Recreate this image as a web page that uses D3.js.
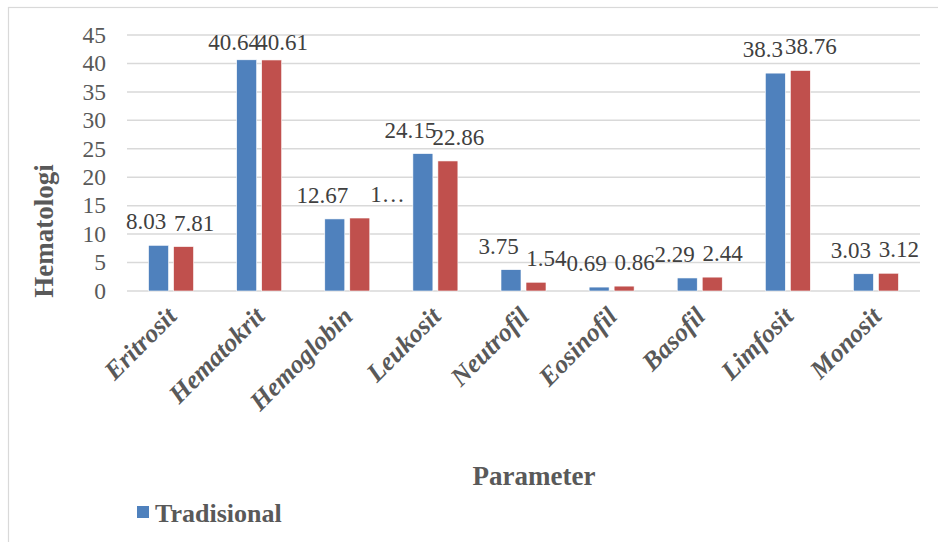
<!DOCTYPE html>
<html>
<head>
<meta charset="utf-8">
<script src="https://cdn.jsdelivr.net/npm/d3@7"></script>
<style>
  body { margin: 0; background: #fff; }
  svg text { font-family: "Liberation Serif", "Times New Roman", serif; }
</style>
</head>
<body>
<div id="chart"></div>
<script>
var categories = ["Eritrosit", "Hematokrit", "Hemoglobin", "Leukosit", "Neutrofil", "Eosinofil", "Basofil", "Limfosit", "Monosit"];
var tradisional = [8.03, 40.64, 12.67, 24.15, 3.75, 0.69, 2.29, 38.3, 3.03];
var series2 = [7.81, 40.61, 12.83, 22.86, 1.54, 0.86, 2.44, 38.76, 3.12];
var yTicks = [0, 5, 10, 15, 20, 25, 30, 35, 40, 45];
var legendName = "Tradisional";
// the label of the second hemoglobin bar is cut off in the original
var truncatedB = [2];

var width = 938, height = 542;
var plotLeft = 127, plotRight = 920, plotTop = 35, plotBottom = 291;

var svg = d3.select("#chart").append("svg")
    .attr("width", width)
    .attr("height", height);

// chart border
svg.append("rect")
    .attr("x", 8.5).attr("y", 7.5)
    .attr("width", 960).attr("height", 600)
    .attr("fill", "none")
    .attr("stroke", "#D9D9D9")
    .attr("stroke-width", 1.2);

var x0 = d3.scaleBand()
    .domain(categories)
    .range([plotLeft, plotRight]);

var x1 = d3.scaleBand()
    .domain(["a", "b"])
    .range([0, x0.bandwidth()])
    .paddingInner(0.2)
    .paddingOuter(0.862);

var y = d3.scaleLinear()
    .domain([0, 45])
    .range([plotBottom, plotTop]);

// gridlines
svg.append("g")
    .selectAll("line")
    .data(yTicks)
    .enter()
    .append("line")
    .attr("x1", plotLeft).attr("x2", plotRight)
    .attr("y1", d => y(d)).attr("y2", d => y(d))
    .attr("stroke", "#D9D9D9")
    .attr("stroke-width", 1.5);

// y tick labels
svg.append("g")
    .selectAll("text")
    .data(yTicks)
    .enter()
    .append("text")
    .attr("x", 106)
    .attr("y", d => y(d))
    .attr("dy", "0.33em")
    .attr("text-anchor", "end")
    .attr("fill", "#595959")
    .style("font-size", "23.5px")
    .text(d => d);

var rows = categories.map((c, i) => ({ cat: c, i: i, a: tradisional[i], b: series2[i] }));

var groups = svg.append("g")
    .selectAll("g")
    .data(rows)
    .enter()
    .append("g")
    .attr("transform", d => "translate(" + x0(d.cat) + ",0)");

groups.append("rect")
    .attr("x", x1("a"))
    .attr("y", d => y(d.a))
    .attr("width", x1.bandwidth())
    .attr("height", d => y(0) - y(d.a))
    .attr("fill", "#4F81BD")
    .attr("stroke", "#ffffff")
    .attr("stroke-width", 0.6);

groups.append("rect")
    .attr("x", x1("b"))
    .attr("y", d => y(d.b))
    .attr("width", x1.bandwidth())
    .attr("height", d => y(0) - y(d.b))
    .attr("fill", "#C0504D")
    .attr("stroke", "#ffffff")
    .attr("stroke-width", 0.6);

// value labels
var mid = x0.bandwidth() / 2;
groups.append("text")
    .attr("x", mid - 25)
    .attr("y", d => Math.max(y(d.a) - 16, 50))
    .attr("text-anchor", "middle")
    .attr("fill", "#404040")
    .style("font-size", "23px")
    .text(d => d.a);

groups.append("text")
    .attr("x", mid + 23)
    .attr("y", d => Math.max(y(d.b) - 16, 50))
    .attr("text-anchor", d => truncatedB.includes(d.i) ? "start" : "middle")
    .attr("fill", "#404040")
    .style("font-size", "23px")
    .text(d => truncatedB.includes(d.i) ? String(d.b).charAt(0) + "\u2026" : d.b);

// category labels
svg.append("g")
    .selectAll("text")
    .data(categories)
    .enter()
    .append("text")
    .attr("transform", d => "translate(" + (x0(d) + mid + 7) + ",318) rotate(-45)")
    .attr("text-anchor", "end")
    .attr("fill", "#595959")
    .style("font-size", "26px")
    .style("font-weight", "bold")
    .style("font-style", "italic")
    .text(d => d);

// axis titles
svg.append("text")
    .attr("transform", "translate(53,231) rotate(-90)")
    .attr("text-anchor", "middle")
    .attr("fill", "#595959")
    .style("font-size", "27px")
    .style("font-weight", "bold")
    .text("Hematologi");

svg.append("text")
    .attr("x", 534)
    .attr("y", 485)
    .attr("text-anchor", "middle")
    .attr("fill", "#595959")
    .style("font-size", "27px")
    .style("font-weight", "bold")
    .text("Parameter");

// legend
svg.append("rect")
    .attr("x", 137).attr("y", 506)
    .attr("width", 12).attr("height", 12)
    .attr("fill", "#4F81BD");

svg.append("text")
    .attr("x", 155)
    .attr("y", 522)
    .attr("fill", "#595959")
    .style("font-size", "26px")
    .style("font-weight", "bold")
    .text(legendName);
</script>
</body>
</html>
